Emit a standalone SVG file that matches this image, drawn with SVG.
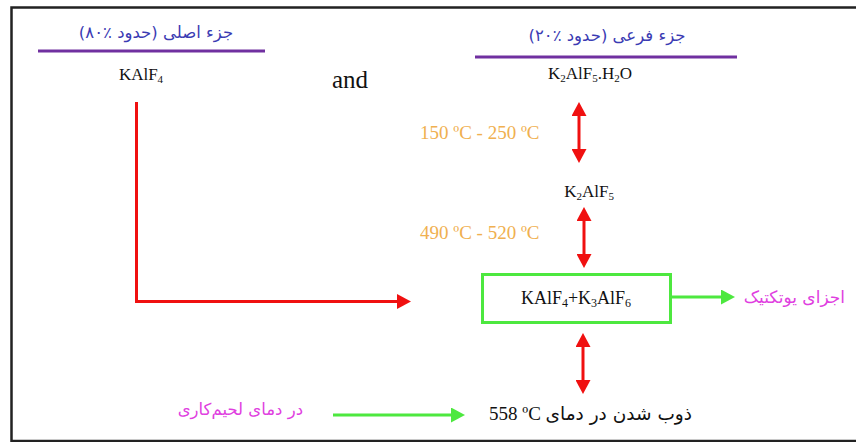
<svg xmlns="http://www.w3.org/2000/svg" width="856" height="442" viewBox="0 0 856 442">
<style>
.lat{font-family:"Liberation Serif","Times New Roman",serif;fill:#111}
.fa{font-family:"DejaVu Sans","Noto Sans",sans-serif}
.head{fill:#3b3bb3;font-size:16.5px}
.mag{fill:#e03ee0}
.temp{font-family:"Liberation Serif",serif;fill:#f0b050;font-size:19px}
.red{stroke:#f01010;stroke-width:3;fill:none}
.grn{stroke:#4de83f;stroke-width:3;fill:none}
.rule{stroke:#7030a0;stroke-width:3}
</style>
<defs>
<marker id="ar" markerUnits="userSpaceOnUse" markerWidth="14" markerHeight="15" refX="4" refY="7.5" orient="auto-start-reverse"><path d="M0,0 L14,7.5 L0,15 z" fill="#f01010"/></marker>
<marker id="ag" markerUnits="userSpaceOnUse" markerWidth="14" markerHeight="15" refX="4" refY="7.5" orient="auto"><path d="M0,0 L14,7.5 L0,15 z" fill="#4de83f"/></marker>
</defs>
<rect x="0" y="0" width="856" height="442" fill="#fff"/>
<rect id="frame" x="11.5" y="7.5" width="900" height="433.5" fill="none" stroke="#222" stroke-width="2.5"/>

<g id="main-part">
<text class="fa head" x="156" y="38" text-anchor="middle" direction="rtl">جزء اصلی (حدود ٪۸۰)</text>
<line class="rule" x1="38" y1="51" x2="265" y2="51"/>
<text class="lat" x="141" y="80" font-size="17" text-anchor="middle">KAlF<tspan font-size="11" dy="3">4</tspan></text>
</g>

<g id="and"><text class="lat" x="332" y="88" font-size="25">and</text></g>

<g id="minor-part">
<text class="fa head" x="607" y="41" text-anchor="middle" direction="rtl">جزء فرعی (حدود ٪۲۰)</text>
<line class="rule" x1="475" y1="57" x2="737" y2="57"/>
<text class="lat" x="590" y="79" font-size="17" text-anchor="middle">K<tspan font-size="11" dy="3">2</tspan><tspan dy="-3">AlF</tspan><tspan font-size="11" dy="3">5</tspan><tspan dy="-3">.H</tspan><tspan font-size="11" dy="3">2</tspan><tspan dy="-3">O</tspan></text>
</g>

<g id="temp1"><text class="temp" x="420" y="139">150 ºC - 250 ºC</text></g>

<g id="k2alf5"><text class="lat" x="589" y="197" font-size="17" text-anchor="middle">K<tspan font-size="11" dy="3">2</tspan><tspan dy="-3">AlF</tspan><tspan font-size="11" dy="3">5</tspan></text></g>

<g id="temp2"><text class="temp" x="420" y="239">490 ºC - 520 ºC</text></g>

<g id="eutectic-box">
<rect x="482.5" y="274.5" width="188" height="48" fill="#fff" stroke="#4de83f" stroke-width="3"/>
<text class="lat" x="576" y="304" font-size="18" text-anchor="middle">KAlF<tspan font-size="12" dy="3">4</tspan><tspan dy="-3">+K</tspan><tspan font-size="12" dy="3">3</tspan><tspan dy="-3">AlF</tspan><tspan font-size="12" dy="3">6</tspan></text>
</g>

<g id="eutectic-label"><text class="fa mag" x="845" y="303" font-size="17" text-anchor="start" direction="rtl">اجزای یوتکتیک</text></g>

<g id="melting">
<text class="fa" x="692" y="420" font-size="18.5" fill="#111" text-anchor="start" direction="rtl">ذوب شدن در دمای</text>
<text class="lat" x="489" y="420" font-size="19">558 ºC</text>
</g>

<g id="brazing-label"><text class="fa mag" x="303" y="415" font-size="16.5" text-anchor="start" direction="rtl">در دمای لحیم‌کاری</text></g>

<g id="connectors">
<line class="red" x1="579" y1="112" x2="579" y2="153" marker-start="url(#ar)" marker-end="url(#ar)"/>
<line class="red" x1="584" y1="217" x2="584" y2="258" marker-start="url(#ar)" marker-end="url(#ar)"/>
<line class="red" x1="583" y1="343" x2="583" y2="384" marker-start="url(#ar)" marker-end="url(#ar)"/>
<path class="red" d="M136.5,102 V301.5 H401" marker-end="url(#ar)"/>
<line class="grn" x1="671" y1="297" x2="725" y2="297" marker-end="url(#ag)"/>
<line class="grn" x1="333" y1="415" x2="455" y2="415" marker-end="url(#ag)"/>
</g>
</svg>
